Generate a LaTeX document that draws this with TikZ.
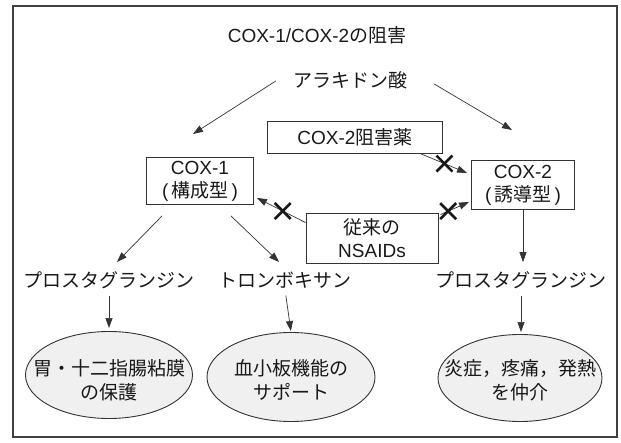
\documentclass[tikz,border=0pt]{standalone}
\usepackage{fontspec}
\setmainfont{Liberation Sans}
\newfontfamily\jp{Noto Sans CJK JP}
\usetikzlibrary{arrows.meta,calc,shapes.geometric}
\begin{document}
\begin{tikzpicture}[x=1pt,y=-1pt,
  font=\fontsize{19}{23}\selectfont,
  lbl/.style={inner sep=1pt,text=black!90},
  box/.style={draw=black!80,line width=0.9pt,rectangle,inner sep=1pt,align=center,text=black!90},
  ell/.style={draw=black!80,line width=0.9pt,ellipse,fill=gray!12,inner sep=0pt},
  elltext/.style={inner sep=0pt,align=center,font=\fontsize{19}{24}\selectfont\jp,text=black!90},
  arr/.style={draw=black!80,line width=0.7pt,-{Triangle[length=10pt,width=7pt]}},
  xm/.style={draw=black!90,line width=2.6pt},
  frame/.style={draw=black!75,line width=1.1pt}]
\useasboundingbox (0,0) rectangle (621,443);
\draw[frame] (13,6) rectangle (617,437);

\node[lbl] (title) at (317,35) {COX-1/COX-2{\jp の阻害}};
\node[lbl] (ara) at (350,80) {\jp アラキドン酸};
\node[box,minimum width=175pt,minimum height=32pt] (inh) at (355,137) {COX-2{\jp 阻害薬}};
\node[box,minimum width=107pt,minimum height=47pt] (cox1) at (200,181) {COX-1\\(\,{\jp 構成型}\,)};
\node[box,minimum width=103pt,minimum height=49pt] (cox2) at (523,185) {COX-2\\(\,{\jp 誘導型}\,)};
\node[box,minimum width=132pt,minimum height=50pt] (nsaid) at (372,238) {{\jp 従来の}\\NSAIDs};
\node[lbl] (pg1) at (109,280) {\jp プロスタグランジン};
\node[lbl] (tx) at (285,280) {\jp トロンボキサン};
\node[lbl] (pg3) at (521,280) {\jp プロスタグランジン};
\node[ell,minimum width=167pt,minimum height=87pt] (el1) at (109,375) {};
\node[ell,minimum width=168pt,minimum height=89pt] (el2) at (291,377) {};
\node[ell,minimum width=164pt,minimum height=87pt] (el3) at (520,378) {};
\node[elltext] (el1t) at ($(el1.center)+(0,5)$) {胃・十二指腸粘膜\\の保護};
\node[elltext] (el2t) at ($(el2.center)+(0,3)$) {血小板機能の\\サポート};
\node[elltext] (el3t) at ($(el3.center)+(0,2)$) {炎症，疼痛，発熱\\を仲介};

% arachidonic acid arrows
\coordinate (a1e) at (193,134);
\coordinate (a2e) at (512,130);
\draw[arr] ($(ara.west)+(-16,1)$) -- (a1e);
\draw[arr] ($(ara.east)+(26,4)$) -- (a2e);

% COX-1 products
\coordinate (c1a) at (117,262);
\coordinate (c1b) at (279,262);
\draw[arr] ($(cox1.south)+(-38,11)$) -- (c1a);
\draw[arr] ($(cox1.south)+(31,11)$) -- (c1b);

% COX-2 product
\draw[arr,shorten >=8pt] (cox2.south) -- (cox2.south |- pg3.north);

% down arrows to ellipses
\draw[arr,shorten <=6pt,shorten >=3pt] (pg1.south) -- (el1.north);
\draw[arr,shorten <=6pt,shorten >=1pt] (tx.south) -- (el2.north);
\draw[arr,shorten <=6pt,shorten >=2pt] (pg3.south) -- (pg3.south |- el3.north);

% inhibitor arrows
\draw[arr] ($(nsaid.north west)+(0,10)$) -- ($(cox1.south east)+(3,-7)$) coordinate[pos=0.47] (x1);
\draw[arr] ($(inh.south)+(65,0)$) -- ($(cox2.west)+(-4,-12)$) coordinate[pos=0.52] (x2);
\draw[arr] ($(nsaid.north east)+(2,2)$) -- ($(cox2.south west)+(-2,-8)$) coordinate[pos=0.27] (x3);

\foreach \c in {x1,x2,x3}{
  \draw[xm] ($(\c)+(-8,-8)$) -- ($(\c)+(8,8)$);
  \draw[xm] ($(\c)+(-8,8)$) -- ($(\c)+(8,-8)$);
}
\end{tikzpicture}
\end{document}
